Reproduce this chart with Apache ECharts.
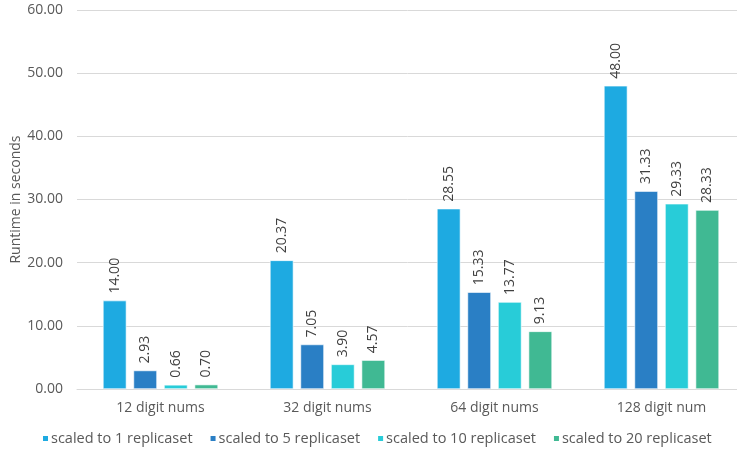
<!DOCTYPE html>
<html>
<head>
<meta charset="utf-8">
<script src="https://cdn.jsdelivr.net/npm/echarts@6/dist/echarts.min.js"></script>
<style>
  html, body { margin: 0; padding: 0; background: #fff; }
  #chart { width: 737px; height: 453px; }
</style>
</head>
<body>
<div id="chart"></div>
<script>
// categories and series values
const categories = ['12 digit nums', '32 digit nums', '64 digit nums', '128 digit num']
const seriesNames = ['scaled to 1 replicaset', 'scaled to 5 replicaset', 'scaled to 10 replicaset', 'scaled to 20 replicaset']
const rep1 = [14.00, 20.37, 28.55, 48.00]
const rep5 = [2.93, 7.05, 15.33, 31.33]
const rep10 = [0.66, 3.90, 13.77, 29.33]
const rep20 = [0.70, 4.57, 9.13, 28.33]
const colors = ['#1eaae1', '#2a7fc5', '#28ccd8', '#40b993']

const FONT = '"Open Sans", "Noto Sans", sans-serif'
const chart = echarts.init(document.getElementById('chart'))

const makeSeries = (name, data) => ({
  name,
  type: 'bar',
  data,
  barWidth: 23.5,
  barGap: '30%',
  itemStyle: { borderColor: '#ffffff', borderWidth: 0.6 },
  label: {
    show: true,
    position: 'top',
    rotate: 90,
    align: 'left',
    verticalAlign: 'middle',
    distance: 7,
    formatter: p => p.value.toFixed(2),
    color: '#404040',
    fontSize: 14,
    fontFamily: FONT
  }
})

chart.setOption({
  color: colors,
  animation: false,
  // plot area runs a little past the right edge, like the original
  grid: { left: 77, right: -8, top: 10, bottom: 64, outerBoundsMode: 'none' },
  legend: {
    bottom: 2,
    left: 36,
    itemWidth: 7,
    itemHeight: 7,
    itemGap: 16,
    icon: 'rect',
    textStyle: { color: '#595959', fontSize: 14.5, fontFamily: FONT, padding: [0, 0, 0, -3] },
    data: seriesNames
  },
  xAxis: {
    type: 'category',
    data: categories,
    axisTick: { show: false },
    axisLine: { lineStyle: { color: '#d9d9d9' } },
    axisLabel: { color: '#595959', fontSize: 14, fontFamily: FONT, margin: 12 }
  },
  yAxis: {
    type: 'value',
    min: 0,
    max: 60,
    interval: 10,
    name: 'Runtime in seconds',
    nameLocation: 'middle',
    nameGap: 54,
    nameMoveOverlap: false,
    nameTextStyle: { color: '#595959', fontSize: 14, fontFamily: FONT },
    splitLine: { lineStyle: { color: '#d9d9d9' } },
    axisLabel: {
      color: '#595959',
      fontSize: 14,
      fontFamily: FONT,
      margin: 14,
      formatter: v => v.toFixed(2)
    }
  },
  series: [
    makeSeries(seriesNames[0], rep1),
    makeSeries(seriesNames[1], rep5),
    makeSeries(seriesNames[2], rep10),
    makeSeries(seriesNames[3], rep20)
  ]
})
</script>
</body>
</html>
